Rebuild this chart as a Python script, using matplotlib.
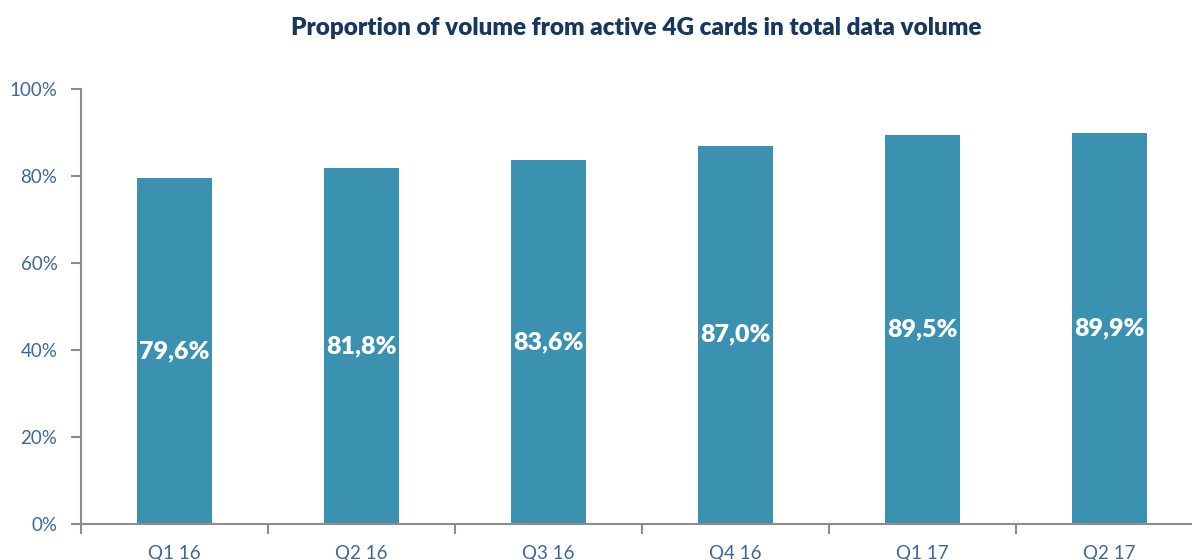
import numpy as np
import matplotlib.pyplot as plt
from matplotlib.ticker import FixedLocator

# data
quarters = ['Q1 16', 'Q2 16', 'Q3 16', 'Q4 16', 'Q1 17', 'Q2 17']
share_4g = [79.6, 81.8, 83.6, 87.0, 89.5, 89.9]

bar_color = '#3A91B0'
title_color = '#17375E'
tick_color = '#3B67A0'
axis_color = '#8C8C8C'

plt.rcParams['font.family'] = ['Lato', 'DejaVu Sans']

fig = plt.figure(figsize=(11.92, 5.6), dpi=100)
ax = fig.add_axes([81 / 1192, 36 / 560, 1122 / 1192, 435 / 560])

x = np.arange(len(quarters))
bars = ax.bar(x, share_4g, width=0.4, color=bar_color)

# value labels in the middle of each bar
for xi, v in zip(x, share_4g):
    ax.text(xi, v / 2, f'{v:.1f}%'.replace('.', ','), ha='center', va='center',
            color='white', fontsize=18, fontweight='heavy')

ax.set_xlim(-0.5, len(quarters) - 0.5)
ax.set_ylim(0, 100)
ax.set_yticks(range(0, 101, 20))
ax.set_yticklabels([f'{t}%' for t in range(0, 101, 20)])
ax.set_xticks(x)
ax.set_xticklabels(quarters)
ax.xaxis.set_minor_locator(FixedLocator(np.arange(-0.5, len(quarters), 1.0)))

for s in ['top', 'right']:
    ax.spines[s].set_visible(False)
for s in ['left', 'bottom']:
    ax.spines[s].set_color(axis_color)
    ax.spines[s].set_linewidth(1.5)

ax.tick_params(axis='y', length=7, width=1.5, color=axis_color, labelcolor=tick_color,
               labelsize=13.5, pad=10)
ax.tick_params(axis='x', which='major', length=0, labelcolor=tick_color, labelsize=13.5, pad=15)
ax.tick_params(axis='x', which='minor', length=7, width=1.5, color=axis_color)

fig.text(636 / 1192, 1 - 28 / 560, 'Proportion of volume from active 4G cards in total data volume',
         ha='center', va='center', color=title_color, fontsize=17.5, fontweight='heavy')

fig.savefig('out.png', dpi=100)
